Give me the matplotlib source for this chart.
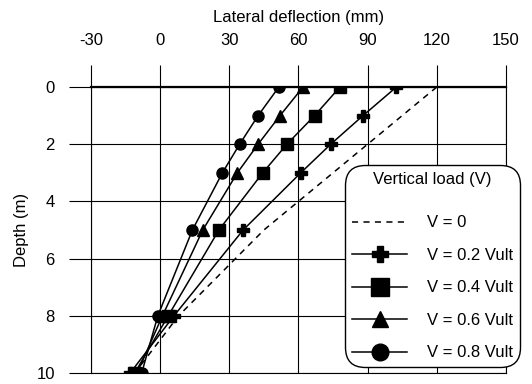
import numpy as np
import matplotlib.pyplot as plt

plt.rcParams['font.family'] = ['Liberation Sans', 'DejaVu Sans']
plt.rcParams['axes.unicode_minus'] = False

depth = [0, 1, 2, 3, 5, 8, 10]
v0 = [120, 105, 90, 75, 45, 8, -11]
v02 = [102.5, 88, 74, 61, 36, 6, -13]
v04 = [78, 67, 55, 44.5, 25.5, 3.5, -11]
v06 = [62, 52, 42.5, 33.5, 18.5, 1, -10]
v08 = [51.5, 42.5, 34.5, 27, 14, -1, -8]

xticks = [-30, 0, 30, 60, 90, 120, 150]
yticks = [0, 2, 4, 6, 8, 10]

fig = plt.figure(figsize=(5.32, 3.84), dpi=100)
ax = fig.add_axes([0.171, 0.0286, 0.78, 0.7448])

ax.plot(v0, depth, color='black', lw=1.1, ls=(0, (4, 3.5)), label='V = 0')
ax.plot(v02, depth, color='black', lw=1.1, marker='P', ms=8, label='V = 0.2 Vult')
ax.plot(v04, depth, color='black', lw=1.1, marker='s', ms=8.5, label='V = 0.4 Vult')
ax.plot(v06, depth, color='black', lw=1.1, marker='^', ms=8, label='V = 0.6 Vult')
ax.plot(v08, depth, color='black', lw=1.1, marker='o', ms=8, label='V = 0.8 Vult')

ax.set_xlim(-30, 150)
ax.set_ylim(10, 0)
ax.set_xticks(xticks)
ax.set_yticks(yticks)
ax.xaxis.tick_top()
ax.xaxis.set_label_position('top')
ax.tick_params(axis='x', direction='out', length=16, width=0.8, pad=12, labelsize=12)
ax.tick_params(axis='y', direction='out', length=16, width=0.8, pad=10, labelsize=12)
ax.grid(True, color='black', lw=0.8)
for s in ax.spines.values():
    s.set_linewidth(0.8)
ax.spines['top'].set_linewidth(1.6)

ax.set_xlabel('Lateral deflection (mm)', fontsize=12, labelpad=8)
ax.set_ylabel('Depth (m)', fontsize=12, labelpad=5)

leg = ax.legend(title='Vertical load (V)', loc='lower left', bbox_to_anchor=(0.612, 0.021),
                borderaxespad=0, fontsize=12, title_fontsize=12, handlelength=3.35,
                handletextpad=1.2, labelspacing=1.05, markerscale=1.5, fancybox=True,
                framealpha=1, edgecolor='black', borderpad=0.4)
leg.get_frame().set_linewidth(1.0)
leg.get_frame().set_boxstyle('round', pad=0, rounding_size=1.2)
# a bit more room under the legend title
leg._legend_box.sep += 8

fig.savefig('out.png', dpi=100)
